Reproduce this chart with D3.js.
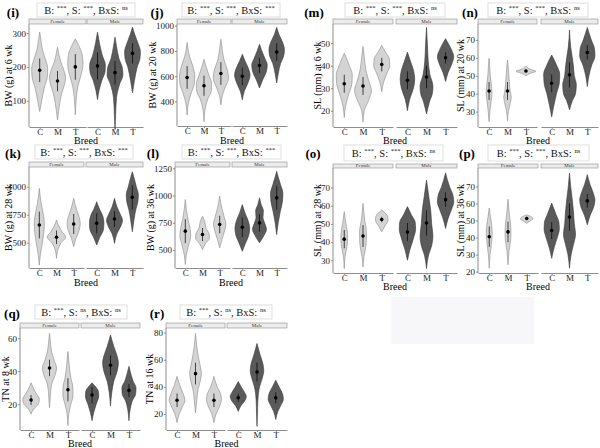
<!DOCTYPE html>
<html><head><meta charset="utf-8">
<script src="https://cdn.jsdelivr.net/npm/d3@7"></script>
<style>body{margin:0;background:#fff} svg{display:block} text{font-family:"Liberation Serif","DejaVu Serif",serif}</style>
</head><body><svg id="c" width="600" height="448"></svg>
<script>
// ---------------- DATA ----------------
const breeds = ["C", "M", "T"];
const sexes = ["Female", "Male"];
const panelIds = ["i", "j", "k", "l", "m", "n", "o", "p", "q", "r"];
const yTitles = ["BW (g) at 6 wk", "BW (g) at 20 wk", "BW (g) at 28 wk", "BW (g) at 36 wk",
  "SL (mm) at 6 wk", "SL (mm) at 20 wk", "SL (mm) at 28 wk", "SL (mm) at 36 wk",
  "TN at 8 wk", "TN at 16 wk"];
const sigB   = ["***", "***", "***", "***", "***", "***", "***", "***", "***", "***"];
const sigS   = ["***", "***", "***", "***", "***", "***", "***", "***", "ns", "ns"];
const sigBxS = ["ns", "***", "***", "***", "ns", "ns", "ns", "ns", "ns", "ns"];

const yTicks_i = [100, 200, 300];
const yTicks_j = [400, 600, 800, 1000];
const yTicks_k = [500, 750, 1000];
const yTicks_l = [500, 750, 1000, 1250];
const yTicks_m = [20, 30, 40, 50];
const yTicks_n = [30, 40, 50, 60, 70];
const yTicks_o = [30, 40, 50, 60, 70];
const yTicks_p = [20, 30, 40, 50, 60, 70];
const yTicks_q = [20, 40, 60];
const yTicks_r = [20, 40, 60, 80];

// means / sd in order: Female C, M, T, Male C, M, T
const means_i = [190, 158, 200, 203, 183, 240];
const sds_i   = [35, 30, 38, 40, 35, 30];
const means_j = [590, 525, 621, 600, 685, 792];
const sds_j   = [90, 80, 90, 70, 60, 70];
const means_k = [658, 548, 667, 673, 711, 905];
const sds_k   = [120, 60, 90, 90, 70, 110];
const means_l = [673, 642, 734, 709, 749, 979];
const sds_l   = [110, 60, 80, 90, 80, 110];
const means_m = [32, 31, 40.5, 33.5, 35, 43.5];
const sds_m   = [4, 4, 3, 4, 5, 2.5];
const means_n = [41.5, 41.5, 52.7, 45.8, 50.5, 63];
const sds_n   = [5, 5, 0.8, 5, 7, 4];
const means_o = [41.6, 43.3, 52.4, 45.5, 50.5, 63.3];
const sds_o   = [5, 6, 1.5, 5, 7, 4];
const means_p = [40.5, 43.3, 51.2, 44.1, 52, 61.5];
const sds_p   = [6, 6, 1, 5, 8, 4];
const means_q = [22.6, 42, 28.8, 25.6, 43.6, 28.4];
const sds_q   = [3, 5, 7, 5, 6, 4];
const means_r = [30.2, 49.8, 30.2, 32, 51, 32];
const sds_r   = [5, 8, 5, 3, 7, 4];

// violin outlines: [value, relative half-width]
const violins_i = [
  [[68,0],[100,0.25],[140,0.6],[170,0.95],[195,1.0],[220,0.75],[250,0.35],[280,0.15],[303,0]],
  [[43,0],[80,0.2],[120,0.5],[150,0.9],[168,1.0],[190,0.8],[215,0.4],[240,0.15],[258,0]],
  [[58,0],[100,0.1],[140,0.3],[175,0.7],[205,0.95],[230,0.9],[260,0.5],[283,0]],
  [[103,0],[130,0.2],[160,0.55],[185,0.95],[205,1.0],[235,0.6],[270,0.25],[303,0]],
  [[15,0],[60,0.08],[110,0.2],[150,0.6],[175,1.0],[195,0.95],[225,0.5],[260,0.2],[288,0]],
  [[123,0],[160,0.25],[200,0.6],[225,0.95],[245,1.0],[270,0.7],[295,0.3],[318,0]]];
const violins_j = [
  [[293,0],[380,0.15],[460,0.5],[540,0.95],[600,1.0],[680,0.75],[760,0.3],[867,0]],
  [[240,0],[330,0.12],[420,0.5],[480,0.95],[540,1.0],[600,0.7],[670,0.3],[733,0]],
  [[373,0],[450,0.2],[530,0.7],[580,1.0],[640,0.9],[720,0.45],[800,0.2],[893,0]],
  [[413,0],[480,0.25],[550,0.75],[610,1.0],[660,0.8],[720,0.35],[773,0]],
  [[507,0],[570,0.4],[640,0.9],[690,1.0],[740,0.7],[800,0.3],[853,0]],
  [[547,0],[620,0.2],[700,0.5],[760,0.9],[810,1.0],[870,0.75],[930,0.3],[987,0]]];
const violins_k = [
  [[300,0],[400,0.15],[500,0.4],[600,0.6],[680,0.65],[760,0.5],[850,0.25],[985,0]],
  [[360,0],[430,0.15],[500,0.6],[550,1.2],[600,0.7],[650,0.3],[702,0]],
  [[464,0],[540,0.3],[610,0.7],[670,0.85],[730,0.7],[800,0.35],[896,0]],
  [[479,0],[550,0.4],[620,0.85],[680,0.9],[740,0.75],[800,0.35],[866,0]],
  [[494,0],[580,0.3],[650,0.8],[700,1.0],[750,0.75],[820,0.3],[896,0]],
  [[598,0],[700,0.2],[800,0.45],[870,0.7],[930,0.75],[1000,0.5],[1070,0.25],[1134,0]]];
const violins_l = [
  [[367,0],[450,0.12],[550,0.45],[630,0.7],[700,0.6],[780,0.35],[870,0.15],[963,0]],
  [[504,0],[560,0.4],[610,0.9],[650,0.85],[700,0.45],[760,0.3],[810,0]],
  [[520,0],[600,0.3],[680,0.65],[740,0.8],[800,0.6],[880,0.3],[994,0]],
  [[489,0],[560,0.4],[640,0.85],[700,0.95],[760,0.8],[840,0.35],[917,0]],
  [[566,0],[630,0.55],[690,0.9],[740,0.7],[800,0.45],[860,0.5],[920,0.2],[979,0]],
  [[642,0],[750,0.2],[850,0.45],[950,0.75],[1020,0.8],[1100,0.5],[1170,0.2],[1223,0]]];
const violins_m = [
  [[17,0],[22,0.15],[27,0.5],[32,0.9],[36,0.95],[40,0.6],[43,0.3],[45.5,0]],
  [[15,0],[20,0.15],[25,0.7],[29,1.0],[33,0.7],[38,0.35],[44,0.15],[48.5,0]],
  [[28.5,0],[33,0.25],[37,0.65],[40,0.95],[43,0.9],[46,0.45],[49,0]],
  [[20,0],[25,0.25],[30,0.7],[34,0.85],[38,0.7],[42,0.35],[46,0]],
  [[18.6,0],[24,0.35],[28,0.7],[31,0.75],[36,0.4],[42,0.2],[50,0.1],[57,0]],
  [[33,0],[37,0.3],[41,0.75],[44,0.95],[47,0.7],[50,0.3],[52,0]]];
const violins_n = [
  [[24.4,0],[30,0.1],[36,0.25],[40,0.35],[44,0.3],[50,0.15],[55,0.08],[59.8,0]],
  [[25,0],[30,0.1],[35,0.35],[38,0.45],[42,0.3],[48,0.2],[54,0.1],[58.8,0]],
  [[50,0],[51.5,0.6],[52.5,1.2],[53.5,0.6],[55.5,0]],
  [[27,0],[33,0.25],[40,0.6],[46,0.95],[51,1.0],[56,0.6],[61.6,0]],
  [[31,0],[36,0.35],[40,0.75],[45,0.85],[50,0.6],[55,0.5],[60,0.35],[66,0.15],[75.6,0]],
  [[44,0],[50,0.2],[56,0.55],[61,0.95],[65,0.9],[70,0.5],[74,0.2],[77,0]]];
const violins_o = [
  [[25.4,0],[32,0.1],[37,0.3],[42,0.4],[46,0.35],[50,0.2],[56.7,0]],
  [[26.3,0],[32,0.12],[38,0.35],[42,0.4],[46,0.4],[52,0.2],[61.3,0]],
  [[45.7,0],[49,0.4],[52,0.75],[54,0.7],[57.6,0]],
  [[30,0],[36,0.3],[42,0.7],[47,0.95],[51,0.9],[55,0.45],[59.5,0]],
  [[25.4,0],[33,0.25],[38,0.6],[43,0.75],[50,0.6],[57,0.5],[64,0.3],[74,0]],
  [[47.5,0],[53,0.3],[58,0.7],[62,0.95],[66,0.85],[70,0.5],[78,0]]];
const violins_p = [
  [[22,0],[30,0.1],[36,0.25],[42,0.35],[47,0.3],[52,0.15],[57.3,0]],
  [[24,0],[32,0.12],[38,0.3],[43,0.35],[48,0.3],[54,0.15],[62.5,0]],
  [[48.4,0],[50,0.5],[51,0.75],[52,0.6],[53.3,0]],
  [[27.8,0],[34,0.3],[40,0.7],[45,0.95],[49,0.9],[54,0.5],[60.2,0]],
  [[22,0],[30,0.2],[36,0.5],[42,0.75],[48,0.6],[55,0.5],[62,0.35],[70,0.15],[77.8,0]],
  [[47.5,0],[53,0.35],[58,0.8],[62,0.95],[66,0.75],[71,0.35],[76.9,0]]];
const violins_q = [
  [[14,0],[17,0.3],[20,0.85],[23,1.0],[26,0.7],[29,0.35],[33,0]],
  [[18,0],[25,0.1],[32,0.25],[38,0.7],[42,0.85],[46,0.6],[52,0.25],[58,0.1],[63,0]],
  [[7,0],[14,0.1],[20,0.35],[25,0.6],[30,0.6],[36,0.35],[44,0.15],[52,0]],
  [[10,0],[15,0.2],[20,0.5],[25,0.8],[28,0.75],[31,0.35],[33,0]],
  [[19,0],[27,0.15],[34,0.4],[40,0.8],[45,0.95],[50,0.75],[55,0.4],[62,0]],
  [[10,0],[17,0.15],[22,0.4],[26,0.8],[30,0.85],[34,0.5],[38,0.25],[43,0]]];
const violins_r = [
  [[13.7,0],[20,0.25],[26,0.7],[30,0.95],[34,0.8],[40,0.4],[47.8,0]],
  [[21,0],[30,0.15],[38,0.3],[45,0.6],[50,0.7],[56,0.55],[62,0.35],[70,0.15],[79.5,0]],
  [[13.7,0],[20,0.25],[26,0.7],[31,0.9],[35,0.8],[40,0.4],[47.8,0]],
  [[22,0],[26,0.3],[30,0.8],[33,0.95],[36,0.75],[40,0.35],[44,0]],
  [[11,0],[20,0.05],[30,0.1],[40,0.3],[46,0.6],[52,0.8],[57,0.7],[63,0.4],[72,0]],
  [[16,0],[22,0.25],[27,0.65],[31,0.9],[35,0.8],[40,0.4],[45,0]]];

const yTicks = [yTicks_i, yTicks_j, yTicks_k, yTicks_l, yTicks_m, yTicks_n, yTicks_o, yTicks_p, yTicks_q, yTicks_r];
const means = [means_i, means_j, means_k, means_l, means_m, means_n, means_o, means_p, means_q, means_r];
const sds = [sds_i, sds_j, sds_k, sds_l, sds_m, sds_n, sds_o, sds_p, sds_q, sds_r];
const violins = [violins_i, violins_j, violins_k, violins_l, violins_m, violins_n, violins_o, violins_p, violins_q, violins_r];

// ---------------- LAYOUT ----------------
const layout = [
  {lab:[13,17],  box:[37,3,135,17],   strip:[19,24],  f:[29,86],   m:[87,143],  plot:[24,127], ytx:8,   brd:144, dom:[22,327]},
  {lab:[157,17], box:[182,3,280,17],  strip:[19,24],  f:[177,231], m:[232,287], plot:[24,126], ytx:152, brd:144, dom:[206,1013]},
  {lab:[13,158], box:[35,145,133,159],strip:[162,167],f:[29,84],   m:[86,143],  plot:[167,268],ytx:8,   brd:286, dom:[274,1176]},
  {lab:[153,158],box:[182,145,281,159],strip:[162,167],f:[175,230],m:[232,287], plot:[167,268],ytx:150, brd:286, dom:[335,1262]},
  {lab:[314,17], box:[345,3,445,17],  strip:[19,24],  f:[333,393], m:[396,457], plot:[24,127], ytx:317, brd:144, dom:[12.8,58.5]},
  {lab:[470,17], box:[488,3,588,17],  strip:[19,24],  f:[478,537], m:[541,598], plot:[24,127], ytx:460, brd:144, dom:[21.4,78.9]},
  {lab:[313,158],box:[344,145,443,161],strip:[164,168],f:[333,393],m:[396,457], plot:[168,273],ytx:317, brd:290, dom:[23,80.7]},
  {lab:[467,158],box:[488,145,589,161],strip:[164,168],f:[478,538],m:[541,598], plot:[168,273],ytx:460, brd:290, dom:[19.2,80.8]},
  {lab:[12,318], box:[35,305,127,319],strip:[323,328],f:[20,79],   m:[81,140],  plot:[328,430],ytx:5,   brd:447, dom:[4.4,66.2]},
  {lab:[157,318],box:[180,305,272,319],strip:[323,328],f:[166,225],m:[227,287], plot:[328,430],ytx:149, brd:447, dom:[8.3,83.4]}
];
const fillCol = {Female:"#d4d4d4", Male:"#5a5a5a"};
const lineCol = {Female:"#8a8a8a", Male:"#383838"};

const svg = d3.select("#c");
// empty placeholder panel
svg.append("rect").attr("x",391).attr("y",297).attr("width",143).attr("height",47).attr("fill","#f7f7f9");

panelIds.forEach((id, k) => {
  const L = layout[k];
  const g = svg.append("g");
  const y = d3.scaleLinear().domain(L.dom).range([L.plot[1], L.plot[0]]);

  g.append("text").attr("x", L.lab[0]).attr("y", L.lab[1]).attr("text-anchor", "middle")
    .attr("font-weight", "bold").attr("font-size", 13).text(`(${id})`);

  g.append("rect").attr("x", L.box[0]).attr("y", L.box[1]).attr("width", L.box[2]-L.box[0])
    .attr("height", L.box[3]-L.box[1]).attr("fill", "#fff").attr("stroke", "#d6d6d6").attr("stroke-width", 0.8);
  const t = g.append("text").attr("x", (L.box[0]+L.box[2])/2).attr("y", (L.box[1]+L.box[3])/2 + 4)
    .attr("text-anchor", "middle").attr("font-size", 10.5).attr("fill", "#111");
  const parts = [["B: ", sigB[k]], [", S: ", sigS[k]], [", BxS: ", sigBxS[k]]];
  parts.forEach(([lbl, sig], pi) => {
    t.append("tspan").attr("dy", pi === 0 ? 0 : 4).text(lbl);
    t.append("tspan").attr("dy", -4).attr("font-size", 6.5).text(sig);
  });

  sexes.forEach((sx, si) => {
    const xr = si === 0 ? L.f : L.m;
    const x = d3.scalePoint().domain(breeds).range(xr).padding(0.6);
    g.append("rect").attr("x", xr[0]).attr("y", L.strip[0]).attr("width", xr[1]-xr[0])
      .attr("height", L.strip[1]-L.strip[0]).attr("fill", "#ececec").attr("stroke", "#8c8c8c").attr("stroke-width", 0.6);
    g.append("text").attr("x", (xr[0]+xr[1])/2).attr("y", L.strip[1]-1).attr("text-anchor", "middle")
      .attr("font-size", 5).attr("fill", "#333").text(sx);

    const ax = g.append("g").attr("transform", `translate(0,${L.plot[1]})`)
      .call(d3.axisBottom(x).tickSize(2).tickSizeOuter(0).tickPadding(0));
    ax.attr("font-family", null).attr("font-size", 9);
    ax.selectAll("text").attr("fill", "#222");
    ax.selectAll("line,path").attr("stroke", "#8c8c8c");

    const half = x.step() * 0.45;
    const area = d3.area().curve(d3.curveMonotoneY).y(d => y(d[0]));
    breeds.forEach((b, bi) => {
      const idx = si*3 + bi;
      const cx = x(b);
      area.x0(d => cx - d[1]*half).x1(d => cx + d[1]*half);
      g.append("path").attr("d", area(violins[k][idx]))
        .attr("fill", fillCol[sx]).attr("stroke", lineCol[sx]).attr("stroke-width", 0.6);
      const mu = means[k][idx], sd = sds[k][idx];
      g.append("line").attr("x1", cx).attr("x2", cx).attr("y1", y(mu-sd)).attr("y2", y(mu+sd))
        .attr("stroke", "#000").attr("stroke-width", 0.7);
      g.append("circle").attr("cx", cx).attr("cy", y(mu)).attr("r", 1.8).attr("fill", "#000");
    });
  });

  const ay = g.append("g").attr("transform", `translate(${L.f[0]},0)`)
    .call(d3.axisLeft(y).tickValues(yTicks[k]).tickFormat(d3.format("d")).tickSize(2).tickSizeOuter(0).tickPadding(1));
  ay.attr("font-family", null).attr("font-size", 9);
  ay.selectAll("text").attr("fill", "#222");
  ay.selectAll("line").attr("stroke", "#8c8c8c");
  ay.select("path.domain").attr("stroke", "#8c8c8c").attr("d", `M0,${L.plot[0]}V${L.plot[1]}`);

  g.append("text").attr("transform", `translate(${L.ytx},${(L.plot[0]+L.plot[1])/2}) rotate(-90)`)
    .attr("text-anchor", "middle").attr("dy", "0.35em").attr("font-size", 10).text(yTitles[k]);
  g.append("text").attr("x", (L.f[0]+L.m[1])/2).attr("y", L.brd).attr("text-anchor", "middle")
    .attr("font-size", 10).text("Breed");
});
</script></body></html>
